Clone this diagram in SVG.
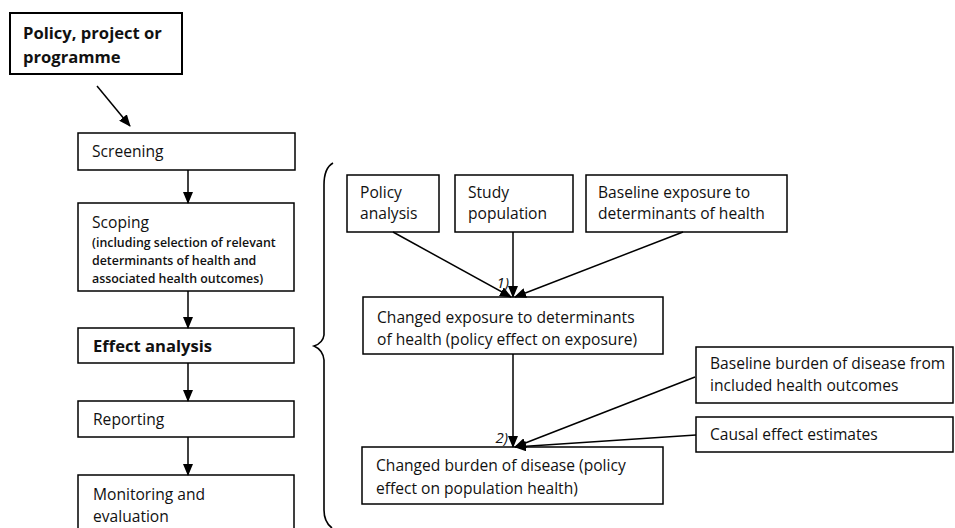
<svg xmlns="http://www.w3.org/2000/svg" width="955" height="528" viewBox="0 0 955 528">
<style>
.box{fill:#fff;stroke:#000;stroke-width:1.5}
.thick{fill:#fff;stroke:#000;stroke-width:2}
text{font-family:"Open Sans","Liberation Sans",sans-serif;fill:#111}
.t{font-size:15.6px}
.b{font-size:16.6px;font-weight:bold}
.s{font-size:12.4px;font-weight:600}
.i{font-size:15px;font-style:italic}
.c{stroke:#000;stroke-width:1.5;fill:none}
</style>
<defs>
<marker id="ah" markerWidth="12" markerHeight="10" refX="11" refY="5" orient="auto" markerUnits="userSpaceOnUse">
<path d="M0,0 L12,5 L0,10 z" fill="#000"/>
</marker>
</defs>
<g id="policy"><rect class="thick" x="10" y="13" width="172" height="61"/><text class="b" x="23" y="39">Policy, project or</text><text class="b" x="23" y="63">programme</text></g>
<g id="screening"><rect class="box" x="78" y="133" width="217" height="37"/><text class="t" x="92" y="157">Screening</text></g>
<g id="scoping"><rect class="box" x="78" y="203" width="216" height="88"/><text class="t" x="92" y="228">Scoping</text><text class="s" x="92" y="247">(including selection of relevant</text><text class="s" x="92" y="265">determinants of health and</text><text class="s" x="92" y="283">associated health outcomes)</text></g>
<g id="effect"><rect class="box" x="78" y="328" width="216" height="35"/><text class="b" x="93" y="352">Effect analysis</text></g>
<g id="reporting"><rect class="box" x="78" y="401" width="216" height="36"/><text class="t" x="93" y="425">Reporting</text></g>
<g id="monitoring"><rect class="box" x="78" y="475" width="216" height="60"/><text class="t" x="93" y="500">Monitoring and</text><text class="t" x="93" y="522">evaluation</text></g>
<g id="brace"><path d="M333,163 Q324,168 324,185 L324,335 Q323,343 314,346 Q323,350 324,360 L324,510 Q324,522 332,528" fill="none" stroke="#000" stroke-width="1.6"/></g>
<g id="policyanalysis"><rect class="box" x="347" y="175" width="92" height="57"/><text class="t" x="360" y="198">Policy</text><text class="t" x="360" y="219">analysis</text></g>
<g id="studypop"><rect class="box" x="455" y="175" width="118" height="57"/><text class="t" x="468" y="198">Study</text><text class="t" x="468" y="219">population</text></g>
<g id="baselineexp"><rect class="box" x="586" y="175" width="201" height="57"/><text class="t" x="598" y="198">Baseline exposure to</text><text class="t" x="598" y="219">determinants of health</text></g>
<g id="changedexp"><rect class="box" x="363" y="297" width="300" height="57"/><text class="t" x="377" y="323">Changed exposure to determinants</text><text class="t" x="377" y="345">of health (policy effect on exposure)</text></g>
<g id="baselineburden"><rect class="box" x="696" y="347" width="257" height="56"/><text class="t" x="710" y="369">Baseline burden of disease from</text><text class="t" x="710" y="391">included health outcomes</text></g>
<g id="causal"><rect class="box" x="696" y="417" width="257" height="35"/><text class="t" x="710" y="440">Causal effect estimates</text></g>
<g id="changedburden"><rect class="box" x="362" y="447" width="301" height="57"/><text class="t" x="376" y="471">Changed burden of disease (policy</text><text class="t" x="376" y="494">effect on population health)</text></g>
<g id="connectors">
<line class="c" x1="97" y1="86" x2="130" y2="126" marker-end="url(#ah)"/>
<line class="c" x1="188" y1="170" x2="188" y2="203" marker-end="url(#ah)"/>
<line class="c" x1="188" y1="291" x2="188" y2="328" marker-end="url(#ah)"/>
<line class="c" x1="188" y1="363" x2="188" y2="401" marker-end="url(#ah)"/>
<line class="c" x1="188" y1="437" x2="188" y2="475" marker-end="url(#ah)"/>
<line class="c" x1="393" y1="232" x2="511" y2="297" marker-end="url(#ah)"/>
<line class="c" x1="513" y1="232" x2="513" y2="297" marker-end="url(#ah)"/>
<line class="c" x1="683" y1="232" x2="515" y2="297" marker-end="url(#ah)"/>
<line class="c" x1="513" y1="354" x2="513" y2="447" marker-end="url(#ah)"/>
<line class="c" x1="695" y1="377" x2="515" y2="447" marker-end="url(#ah)"/>
<line class="c" x1="696" y1="435" x2="515" y2="447" marker-end="url(#ah)"/>
<text class="i" x="509" y="288" text-anchor="end">1)</text>
<text class="i" x="508" y="443" text-anchor="end">2)</text>
</g>
</svg>
